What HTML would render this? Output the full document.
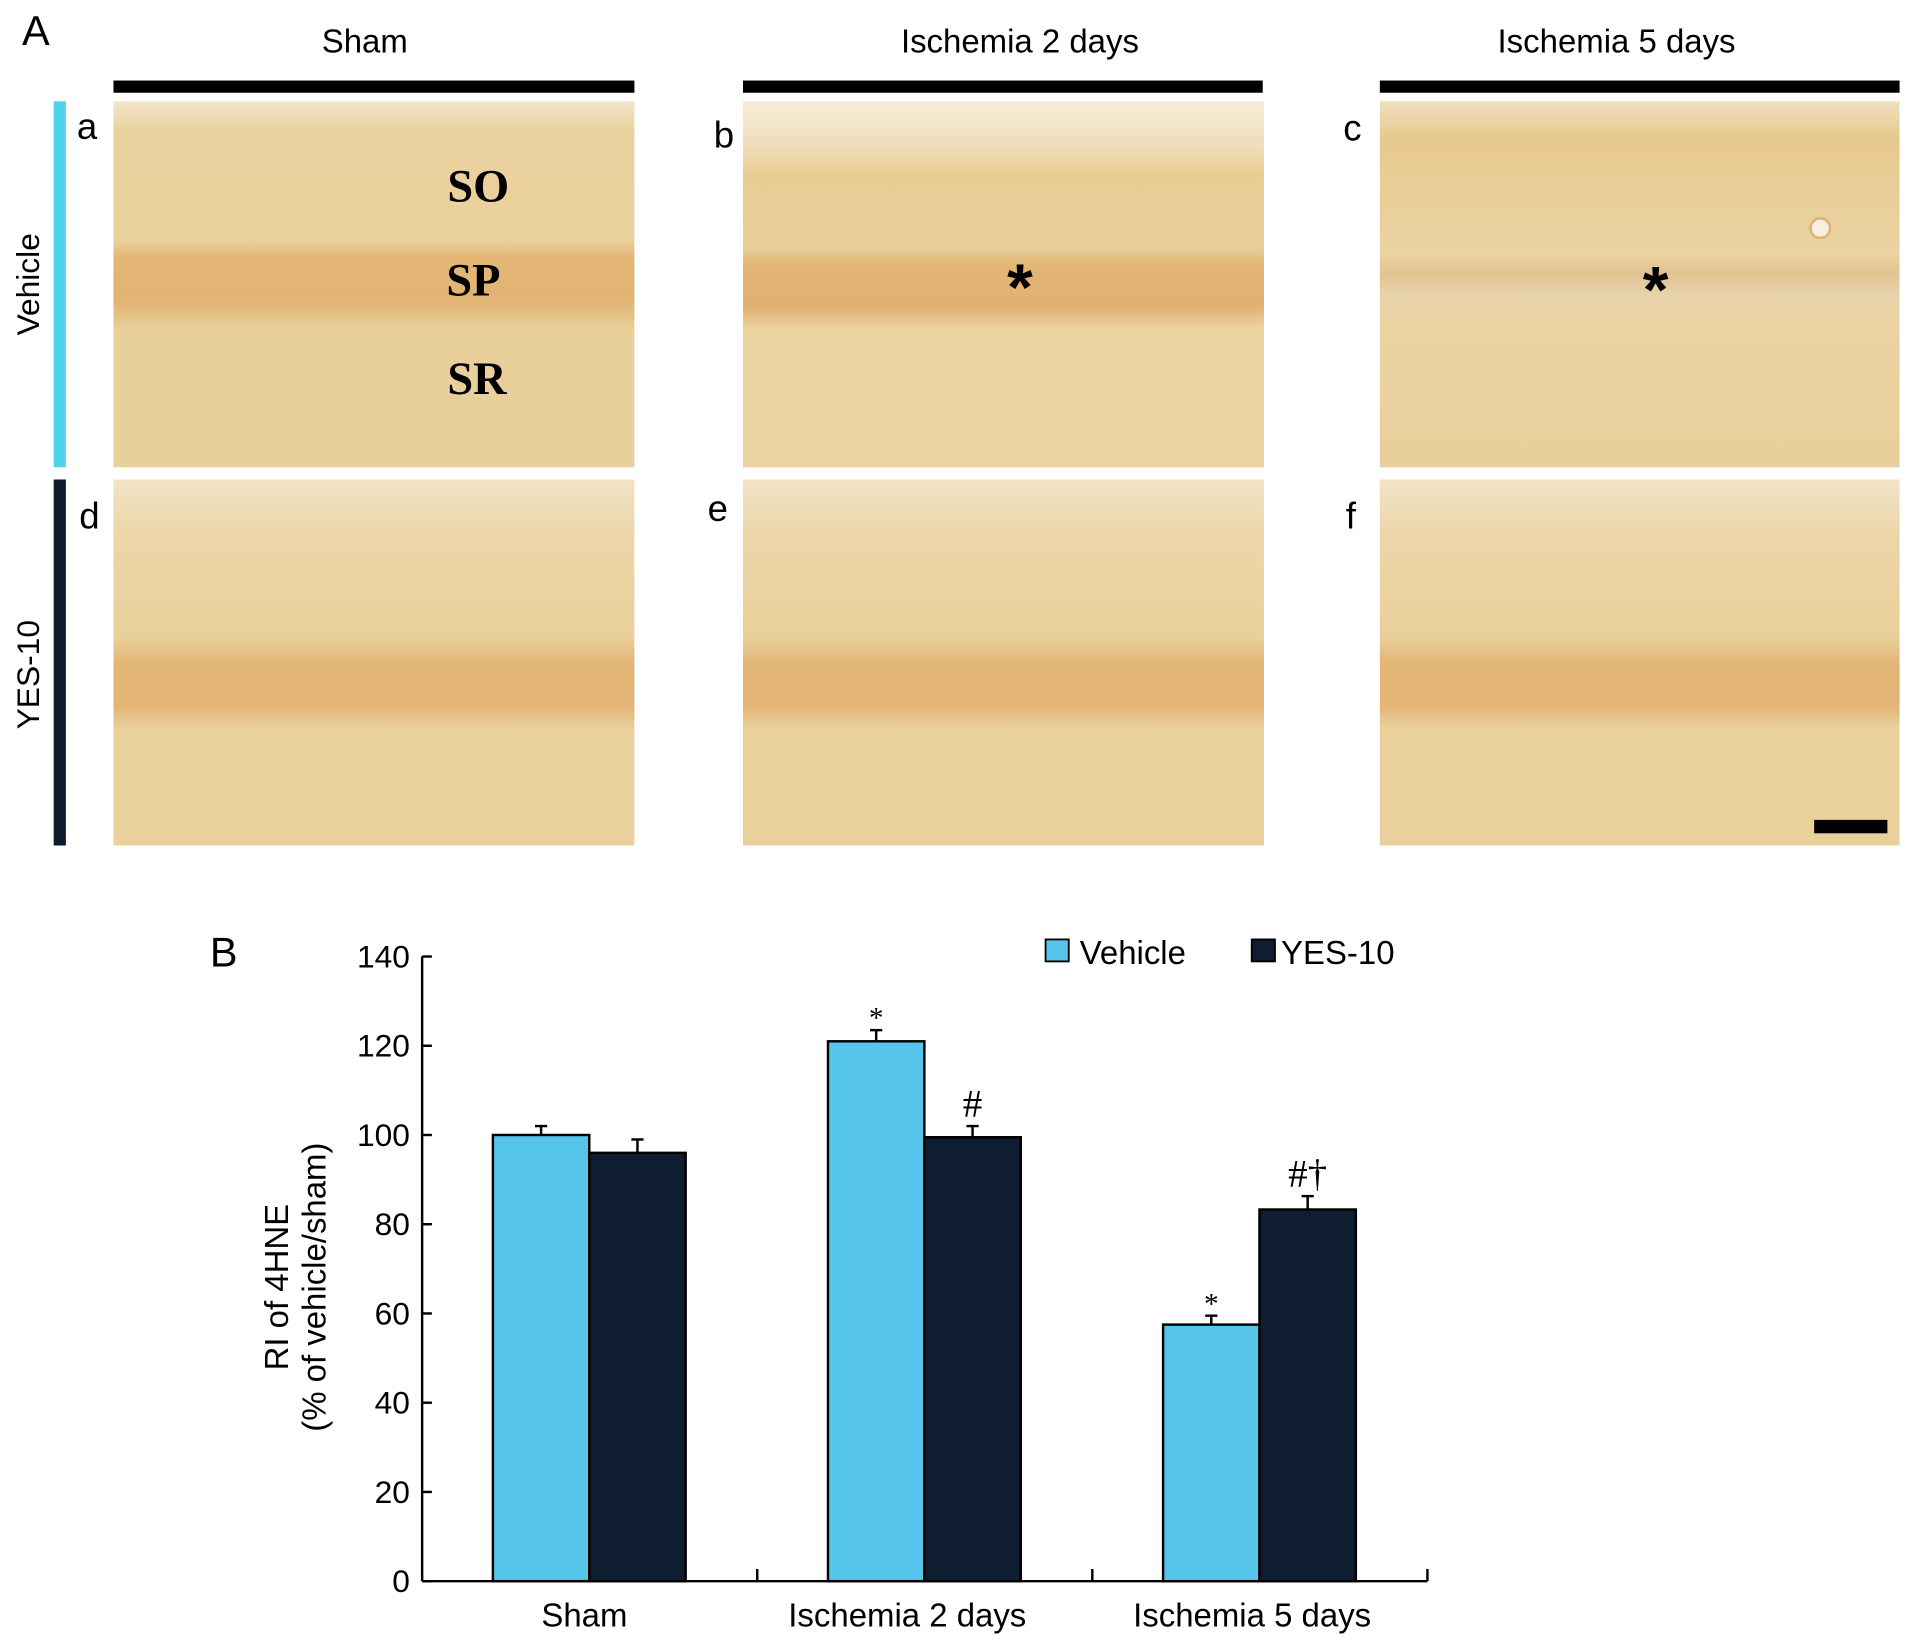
<!DOCTYPE html>
<html><head><meta charset="utf-8"><style>
html,body{margin:0;padding:0;background:#fff;}
svg{display:block;font-family:"Liberation Sans",sans-serif;}
</style></head><body>
<svg id="fig" width="1913" height="1645" viewBox="0 0 1568 1348.3" xmlns="http://www.w3.org/2000/svg">
<defs>
<linearGradient id="g1" x1="0" y1="0" x2="0" y2="1">
<stop offset="0" stop-color="#f3e6cc"/><stop offset="0.08" stop-color="#ead29f"/>
<stop offset="0.38" stop-color="#ead09a"/><stop offset="0.43" stop-color="#e3b676"/>
<stop offset="0.55" stop-color="#e2b473"/><stop offset="0.62" stop-color="#e9cf99"/>
<stop offset="1" stop-color="#e9cf9a"/></linearGradient>
<linearGradient id="g2" x1="0" y1="0" x2="0" y2="1">
<stop offset="0" stop-color="#f5ecd9"/><stop offset="0.13" stop-color="#efdcb6"/>
<stop offset="0.2" stop-color="#e8cc93"/><stop offset="0.4" stop-color="#e9cf99"/>
<stop offset="0.45" stop-color="#e2b573"/><stop offset="0.56" stop-color="#e0b170"/>
<stop offset="0.62" stop-color="#ebd3a0"/><stop offset="1" stop-color="#ebd3a0"/></linearGradient>
<linearGradient id="g3" x1="0" y1="0" x2="0" y2="1">
<stop offset="0" stop-color="#f0e0bf"/><stop offset="0.1" stop-color="#e7c98e"/>
<stop offset="0.42" stop-color="#ebd3a2"/><stop offset="0.47" stop-color="#e3c291"/>
<stop offset="0.53" stop-color="#e8d3ad"/><stop offset="0.6" stop-color="#ebd3a2"/><stop offset="1" stop-color="#e9cf9a"/></linearGradient>
<linearGradient id="g4" x1="0" y1="0" x2="0" y2="1">
<stop offset="0" stop-color="#f1e3c8"/><stop offset="0.15" stop-color="#ecd6a8"/>
<stop offset="0.43" stop-color="#ead09a"/><stop offset="0.5" stop-color="#e3b676"/>
<stop offset="0.62" stop-color="#e3b577"/><stop offset="0.68" stop-color="#ead09b"/>
<stop offset="1" stop-color="#ead09b"/></linearGradient>
</defs>
<g>
<text x="18" y="37" font-size="34">A</text>
<text x="299" y="43" font-size="27" text-anchor="middle">Sham</text>
<text x="836" y="43" font-size="27" text-anchor="middle">Ischemia 2 days</text>
<text x="1325" y="43" font-size="27" text-anchor="middle">Ischemia 5 days</text>
<rect x="93" y="66" width="427" height="10" fill="#000"/>
<rect x="609" y="66" width="426" height="10" fill="#000"/>
<rect x="1131" y="66" width="426" height="10" fill="#000"/>
<rect x="44" y="83" width="10" height="300" fill="#4fd2ee"/>
<rect x="44" y="393" width="10" height="300" fill="#0d1b2c"/>
<text transform="translate(32,233) rotate(-90)" font-size="26" text-anchor="middle">Vehicle</text>
<text transform="translate(32,553) rotate(-90)" font-size="26" text-anchor="middle">YES-10</text>
<rect x="93" y="83" width="427" height="300" fill="url(#g1)"/>
<rect x="609" y="83" width="427" height="300" fill="url(#g2)"/>
<rect x="1131" y="83" width="426" height="300" fill="url(#g3)"/>
<rect x="93" y="393" width="427" height="300" fill="url(#g4)"/>
<rect x="609" y="393" width="427" height="300" fill="url(#g4)"/>
<rect x="1131" y="393" width="426" height="300" fill="url(#g4)"/>
<circle cx="1492" cy="187" r="8" fill="#f7efe0" stroke="#d8b27a" stroke-width="2"/>
<g font-size="30">
<text x="63" y="114">a</text><text x="585" y="121">b</text><text x="1101" y="115">c</text>
<text x="65" y="433">d</text><text x="580" y="427">e</text><text x="1103" y="433">f</text></g>
<g font-family="Liberation Serif,serif" font-weight="bold" font-size="38" text-anchor="middle">
<text x="392" y="165">SO</text><text x="388" y="242">SP</text><text x="391" y="323">SR</text></g>
<text x="836" y="254" font-size="54" font-weight="bold" text-anchor="middle">*</text>
<text x="1357" y="256" font-size="54" font-weight="bold" text-anchor="middle">*</text>
<rect x="1487" y="672" width="60" height="11" fill="#000"/>
</g>
<text x="172" y="792" font-size="34">B</text>
<g id="chart"></g>
<script>
const categories=["Sham","Ischemia 2 days","Ischemia 5 days"];
const vehicleValues=[100,121,57.5];
const yesValues=[96,99.5,83.3];
const vehicleErr=[2,2.5,2];
const yesErr=[3,2.5,3];
const vehicleMarks=["","*","*"];
const yesMarks=["","#","#†"];
const yTicks=[0,20,40,60,80,100,120,140];
const NS="http://www.w3.org/2000/svg";
const g=document.getElementById('chart');
const X0=346,X1=1170,Y0=1296,Y140=784;
const y=v=>Y0-(v/140)*(Y0-Y140);
const gw=(X1-X0)/3;
const cx=i=>X0+gw*i+gw/2+(483-(X0+gw/2));
function mk(t,a,txt){const e=document.createElementNS(NS,t);for(const k in a)e.setAttribute(k,a[k]);if(txt!==undefined)e.textContent=txt;g.appendChild(e);return e;}
let ax=mk('line',{x1:X0,y1:Y140,x2:X0,y2:Y0,stroke:'#000','stroke-width':2});


let bx=mk('line',{x1:X0,y1:Y0,x2:X1,y2:Y0,stroke:'#000','stroke-width':2});


yTicks.forEach(v=>{
 let t=mk('line',{x1:X0,y1:y(v),x2:X0+8,y2:y(v),stroke:'#000','stroke-width':2});
 
 
 let l=mk('text',{x:X0-10,y:y(v)+9,'font-size':26,'text-anchor':'end'},String(v));
 
 
});
for(let i=1;i<=3;i++){
 let t=mk('line',{x1:X0+gw*i,y1:Y0,x2:X0+gw*i,y2:Y0-10,stroke:'#000','stroke-width':2});
 
 
}
const bw=79;
categories.forEach((c,i)=>{
 const ctr=cx(i);
 [[vehicleValues,vehicleErr,vehicleMarks,'#56c5ec',-1,'vehicle'],[yesValues,yesErr,yesMarks,'#0e1d30',0,'yes10']].forEach(([vals,errs,marks,col,off,nm])=>{
  const x=ctr+off*bw, v=vals[i];
  const xm=x+bw/2;
  let e=mk('line',{x1:xm,y1:y(v),x2:xm,y2:y(v+errs[i]),stroke:'#000','stroke-width':2});
  
  
  let cap=mk('line',{x1:xm-5,y1:y(v+errs[i]),x2:xm+5,y2:y(v+errs[i]),stroke:'#000','stroke-width':2});
  
  
  let r=mk('rect',{x:x,y:y(v),width:bw,height:Y0-y(v),fill:col,stroke:'#000','stroke-width':2});
  
  
  if(marks[i]){
   const star=marks[i]==='*';
   let m=mk('text',{x:xm,y:y(v+errs[i])-(star?2:8),'font-size':star?24:32,'font-family':'Liberation Serif,serif','text-anchor':'middle'},marks[i]);
   
   
  }
 });
 let l=mk('text',{x:ctr-(i===0?4:i===1?14:6),y:1333,'font-size':27,'text-anchor':'middle'},c);
 
 
});
let t1=mk('text',{transform:'translate(236,1055) rotate(-90)','font-size':27,'text-anchor':'middle'},'RI of 4HNE');


let t2=mk('text',{transform:'translate(267,1055) rotate(-90)','font-size':27,'text-anchor':'middle'},'(% of vehicle/sham)');


let s1=mk('rect',{x:857,y:770,width:19,height:18,fill:'#56c5ec',stroke:'#000','stroke-width':1.5});


let l1=mk('text',{x:885,y:790,'font-size':27},'Vehicle');


let s2=mk('rect',{x:1026,y:770,width:19,height:18,fill:'#0e1d30',stroke:'#000','stroke-width':1.5});


let l2=mk('text',{x:1050,y:790,'font-size':27},'YES-10');


</script>
</svg>
</body></html>
